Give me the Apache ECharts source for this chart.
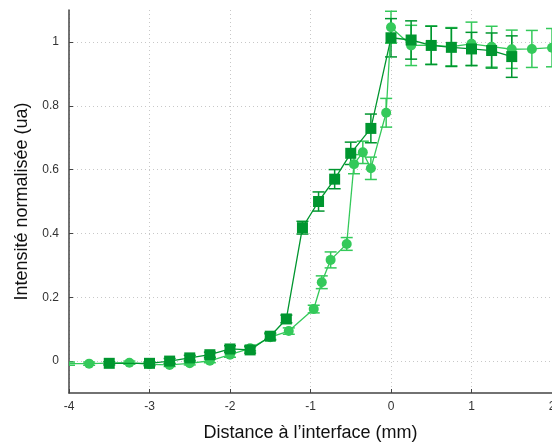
<!DOCTYPE html>
<html><head><meta charset="utf-8">
<script src="https://cdn.jsdelivr.net/npm/echarts@6/dist/echarts.min.js"></script>
<style>html,body{margin:0;padding:0;background:#fff}#c{width:552px;height:443px}</style>
</head><body><div id="c"></div>
<script>
// Dark green squares
var sqX   = [-3.5, -3.0, -2.75, -2.5, -2.25, -2.0, -1.75, -1.5, -1.3, -1.1, -0.9, -0.7, -0.5, -0.25, 0.0, 0.25, 0.5, 0.75, 1.0, 1.25, 1.5];
var sqY   = [-0.007, -0.007, 0.0, 0.01, 0.02, 0.038, 0.035, 0.078, 0.132, 0.418, 0.50, 0.57, 0.651, 0.729, 1.013, 1.006, 0.989, 0.983, 0.978, 0.973, 0.954];
var sqErr = [0.005, 0.005, 0.008, 0.008, 0.008, 0.01, 0.01, 0.01, 0.012, 0.02, 0.03, 0.03, 0.035, 0.045, 0.06, 0.06, 0.06, 0.06, 0.052, 0.055, 0.065];
// Light green circles
var ciX   = [-4.0, -3.75, -3.25, -3.0, -2.75, -2.5, -2.25, -2.0, -1.75, -1.5, -1.27, -0.96, -0.86, -0.75, -0.55, -0.46, -0.35, -0.25, -0.06, 0.0, 0.25, 0.5, 0.75, 1.0, 1.25, 1.5, 1.75, 2.0];
var ciY   = [-0.008, -0.008, -0.005, -0.01, -0.012, -0.007, 0.001, 0.02, 0.04, 0.075, 0.094, 0.163, 0.247, 0.317, 0.367, 0.617, 0.654, 0.604, 0.778, 1.046, 0.989, 0.99, 0.985, 0.994, 0.985, 0.977, 0.978, 0.982];
var ciErr = [0.005, 0.005, 0.005, 0.005, 0.005, 0.005, 0.006, 0.008, 0.008, 0.01, 0.01, 0.012, 0.02, 0.025, 0.02, 0.03, 0.035, 0.035, 0.045, 0.05, 0.063, 0.06, 0.06, 0.068, 0.064, 0.06, 0.058, 0.06];
var yTicks = [0, 0.2, 0.4, 0.6, 0.8, 1];

var darkC = '#00962f', lightC = '#34c95a';

function pts(xs, ys){ return xs.map(function(x,i){ var d={value:[x, ys[i]]}; if(i===0 && x===-4){d.symbol='none';} return d; }); }
function errData(xs, ys, es){ return xs.map(function(x,i){ return [x, ys[i]-es[i], ys[i]+es[i]]; }); }
function errSeries(data, color, capHalf){
  return {
    type:'custom', data:data, z:3, clip:true,
    encode:{x:0, y:[1,2]},
    renderItem:function(params, api){
      var x = api.value(0);
      var lo = api.coord([x, api.value(1)]);
      var hi = api.coord([x, api.value(2)]);
      var st = {stroke:color, lineWidth:1.5};
      return {type:'group', children:[
        {type:'line', shape:{x1:lo[0], y1:lo[1], x2:hi[0], y2:hi[1]}, style:st},
        {type:'line', shape:{x1:lo[0]-capHalf, y1:lo[1], x2:lo[0]+capHalf, y2:lo[1]}, style:st},
        {type:'line', shape:{x1:hi[0]-capHalf, y1:hi[1], x2:hi[0]+capHalf, y2:hi[1]}, style:st}
      ]};
    }
  };
}

var chart = echarts.init(document.getElementById('c'), null, {renderer:'canvas'});
var gridC = '#c8c8c8';
chart.setOption({
  animation:false,
  grid:{left:69, top:10, right:0, bottom:50, containLabel:false, outerBoundsMode:'none'},
  xAxis:{
    type:'value', min:-4, max:2, interval:1,
    name:'Distance à l’interface (mm)', nameLocation:'middle', nameGap:31,
    nameTextStyle:{fontFamily:'Liberation Sans', fontSize:18, color:'#111'},
    axisLine:{onZero:false, lineStyle:{color:'#444', width:1.5}},
    axisTick:{inside:true, length:4, lineStyle:{color:'#444'}},
    axisLabel:{fontFamily:'Liberation Sans', fontSize:12, color:'#333', margin:8},
    splitLine:{show:true, lineStyle:{color:gridC, type:[1,3], width:1}}
  },
  yAxis:{
    type:'value', min:-0.1, max:1.1,
    name:'Intensité normalisée (ua)', nameLocation:'middle', nameGap:32,
    nameTextStyle:{fontFamily:'Liberation Sans', fontSize:18, color:'#111'},
    axisLine:{show:true, onZero:false, lineStyle:{color:'#444', width:1.5}},
    axisTick:{show:true, inside:true, length:4, lineStyle:{color:'#444'}, customValues:yTicks},
    axisLabel:{fontFamily:'Liberation Sans', fontSize:12, color:'#333', margin:10, customValues:yTicks,
      formatter:function(v){ return String(+v.toFixed(1)); }},
    splitLine:{show:true, lineStyle:{color:gridC, type:[1,3], width:1}}
  },
  series:[
    errSeries(errData(ciX, ciY, ciErr), lightC, 6),
    {type:'line', data:pts(ciX, ciY), symbol:'circle', symbolSize:10, z:4,
     lineStyle:{color:lightC, width:1.3}, itemStyle:{color:lightC}},
    errSeries(errData(sqX, sqY, sqErr), darkC, 6),
    {type:'line', data:pts(sqX, sqY), symbol:'rect', symbolSize:11, z:5,
     lineStyle:{color:darkC, width:1.3}, itemStyle:{color:darkC}}
  ]
});
</script></body></html>
